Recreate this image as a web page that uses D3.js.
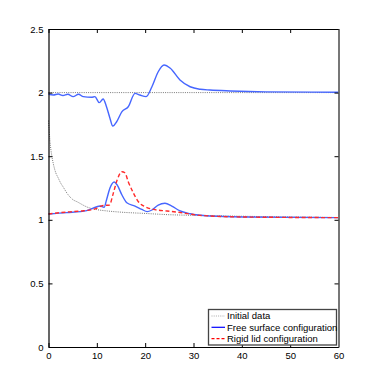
<!DOCTYPE html>
<html>
<head>
<meta charset="utf-8">
<script src="https://cdn.jsdelivr.net/npm/d3@7"></script>
<style>
  body { margin: 0; background: #fff; }
  svg text { font-family: "Liberation Sans", Arial, sans-serif; font-size: 9px; fill: #000; }
</style>
</head>
<body>
<div class="graph-container"></div>
<script>
// initial data: flat line at 2 and decaying curve
var initialUpperX = [0, 60];
var initialUpperY = [2, 2];
var initialLowerX = [0, 0.3, 0.7, 1, 1.5, 2, 2.5, 3, 4, 5, 6, 8, 10, 12, 15, 20, 25, 30, 40, 50, 60];
var initialLowerY = [1.78, 1.62, 1.5, 1.44, 1.37, 1.33, 1.29, 1.26, 1.2, 1.16, 1.14, 1.1, 1.08, 1.07, 1.06, 1.05, 1.04, 1.035, 1.028, 1.022, 1.018];

// free surface configuration (upper and lower)
var freeUpperX = [0, 1, 2, 3, 4, 5.1, 6.2, 7.2, 8.9, 9.6, 10.5, 11.3, 12.0, 12.7, 13.3, 14.1, 15.2, 16.5, 17.9, 18.9, 20.2, 21.4, 22.7, 23.9, 25.2, 27.2, 29.3, 31.4, 33.4, 37.6, 45, 60];
var freeUpperY = [1.987, 1.981, 1.989, 1.977, 1.987, 1.968, 1.987, 1.968, 1.963, 1.968, 1.921, 1.95, 1.889, 1.80, 1.737, 1.771, 1.85, 1.889, 1.994, 1.981, 1.968, 2.046, 2.164, 2.217, 2.191, 2.099, 2.046, 2.026, 2.02, 2.013, 2.006, 2.003];
var freeLowerX = [0, 3.8, 7.9, 10, 10.7, 11.5, 12.0, 12.7, 13.6, 14.2, 15.2, 16.2, 17.9, 19.3, 20.4, 21.4, 22.7, 24.1, 25.5, 27.1, 29.3, 33.4, 40.3, 60];
var freeLowerY = [1.046, 1.056, 1.072, 1.103, 1.108, 1.098, 1.156, 1.248, 1.297, 1.274, 1.195, 1.134, 1.108, 1.082, 1.064, 1.077, 1.116, 1.13, 1.108, 1.072, 1.048, 1.03, 1.022, 1.017];

// rigid lid configuration
var rigidX = [0, 2.4, 6.5, 9.3, 11.3, 12.6, 13.4, 14.2, 15.2, 15.8, 16.5, 17.6, 18.6, 20, 21.7, 24.5, 26.9, 31.3, 40, 60];
var rigidY = [1.046, 1.056, 1.069, 1.082, 1.112, 1.116, 1.208, 1.313, 1.378, 1.37, 1.30, 1.208, 1.142, 1.103, 1.082, 1.069, 1.059, 1.035, 1.022, 1.017];

var xTicks = [0, 10, 20, 30, 40, 50, 60];
var yTicks = [0, 0.5, 1, 1.5, 2, 2.5];
var legendLabels = ['Initial data', 'Free surface configuration', 'Rigid lid configuration'];

var svgWidth = 374;
var svgHeight = 390;
var padLeft = 48.5, padRight = 338.5, padTop = 29, padBottom = 347;

var svg = d3.select('.graph-container').append('svg')
  .attr('width', svgWidth)
  .attr('height', svgHeight);

var xScale = d3.scaleLinear().domain([0, 60]).range([padLeft, padRight]);
var yScale = d3.scaleLinear().domain([0, 2.5]).range([padBottom, padTop]);

function zipPoints(xs, ys) {
  return xs.map(function(x, i) { return [x, ys[i]]; });
}

var line = d3.line()
  .x(function(d) { return xScale(d[0]); })
  .y(function(d) { return yScale(d[1]); })
  .curve(d3.curveMonotoneX);

var plot = svg.append('g');

// initial data, dotted
[zipPoints(initialUpperX, initialUpperY), zipPoints(initialLowerX, initialLowerY)].forEach(function(pts) {
  plot.append('path')
    .attr('d', line(pts))
    .attr('fill', 'none')
    .attr('stroke', '#777')
    .attr('stroke-width', 1)
    .attr('stroke-dasharray', '1,1.2');
});

// free surface, blue
[zipPoints(freeUpperX, freeUpperY), zipPoints(freeLowerX, freeLowerY)].forEach(function(pts) {
  plot.append('path')
    .attr('d', line(pts))
    .attr('fill', 'none')
    .attr('stroke', '#4666ff')
    .attr('stroke-width', 1.4);
});

// rigid lid, red dashed
plot.append('path')
  .attr('d', line(zipPoints(rigidX, rigidY)))
  .attr('fill', 'none')
  .attr('stroke', '#ff2a2a')
  .attr('stroke-width', 1.4)
  .attr('stroke-dasharray', '4,2.5');

// axes box with inward ticks
var xAxisB = d3.axisBottom(xScale).tickValues(xTicks).tickSizeInner(-4).tickSizeOuter(0).tickPadding(5);
var xAxisT = d3.axisTop(xScale).tickValues(xTicks).tickSizeInner(-4).tickSizeOuter(0).tickFormat('');
var yAxisL = d3.axisLeft(yScale).tickValues(yTicks).tickSizeInner(-4).tickSizeOuter(0).tickPadding(5).tickFormat(d3.format('~g'));
var yAxisR = d3.axisRight(yScale).tickValues(yTicks).tickSizeInner(-4).tickSizeOuter(0).tickFormat('');

svg.append('g').attr('transform', 'translate(0,' + padBottom + ')').call(xAxisB);
svg.append('g').attr('transform', 'translate(0,' + padTop + ')').call(xAxisT);
svg.append('g').attr('transform', 'translate(' + padLeft + ',0)').call(yAxisL);
svg.append('g').attr('class', 'rightAxis').attr('transform', 'translate(' + padRight + ',0)').call(yAxisR);

svg.selectAll('.domain').attr('stroke', '#000').attr('stroke-width', 1.2);
svg.select('.rightAxis .domain').attr('stroke', '#777').attr('stroke-width', 2);
svg.selectAll('.tick text').style('font-size', '9.5px').attr('fill', '#000');

// legend
var legend = svg.append('g').attr('transform', 'translate(208.5,309.5)');
legend.append('rect')
  .attr('width', 128)
  .attr('height', 35.5)
  .attr('fill', '#fff')
  .attr('stroke', '#444')
  .attr('stroke-width', 1.3);

var legendStyles = [
  { color: '#aaa', dash: '1,1.2', width: 1 },
  { color: '#0000ff', dash: null, width: 1.2 },
  { color: '#ff0000', dash: '3,2', width: 1.2 }
];

legendLabels.forEach(function(label, i) {
  var y = 6.5 + i * 11.3;
  legend.append('line')
    .attr('x1', 3).attr('x2', 16.5)
    .attr('y1', y).attr('y2', y)
    .attr('stroke', legendStyles[i].color)
    .attr('stroke-width', legendStyles[i].width)
    .attr('stroke-dasharray', legendStyles[i].dash);
  legend.append('text')
    .attr('x', 18.5)
    .attr('y', y + 3.3)
    .style('font-size', '9.5px')
    .text(label);
});
</script>
</body>
</html>
